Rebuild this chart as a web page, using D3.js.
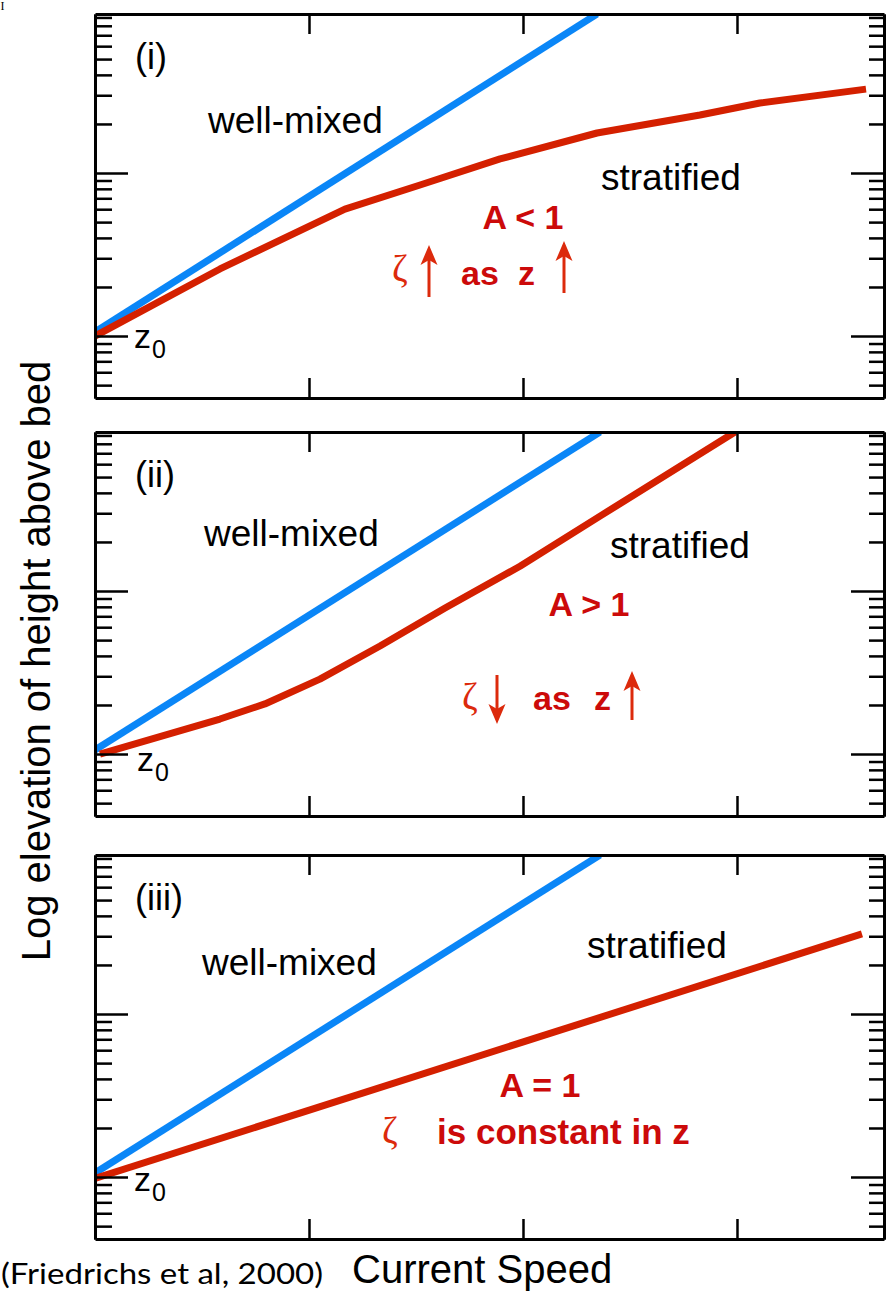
<!DOCTYPE html>
<html>
<head>
<meta charset="utf-8">
<script src="https://cdn.jsdelivr.net/npm/d3@7"></script>
<style>
  body { margin: 0; background: #fff; }
  svg { display: block; }
</style>
</head>
<body>
<script>
// ---- data -------------------------------------------------------------
// Current speed (arbitrary units) and log height above bed (in units of z0)
const speedMax = 3.687;
const speedTicks = [1, 2, 3];
const heightMin = 0.417;
const heightMax = 94.5;
const majorHeights = [1, 10];
const panelLabels = ["(i)", "(ii)", "(iii)"];

// panel (i): A < 1
const mixedSpeed1 = [0, 2.346];
const mixedHeight1 = [1.06, 94.5];
const stratSpeed1 = [0, 0.584, 1.168, 1.519, 1.893, 2.346, 2.827, 3.107, 3.603];
const stratHeight1 = [1, 2.58, 6.01, 8.44, 12.2, 17.6, 22.7, 26.9, 32.7];

// panel (ii): A > 1
const mixedSpeed2 = [0, 2.36];
const mixedHeight2 = [1.06, 94.5];
const stratSpeed2 = [0.023, 0.584, 0.794, 1.051, 1.332, 1.636, 1.986, 2.36, 2.991];
const stratHeight2 = [1.0, 1.64, 2.03, 2.88, 4.6, 7.87, 14.2, 28.8, 94.5];

// panel (iii): A = 1
const mixedSpeed3 = [0, 2.36];
const mixedHeight3 = [1.06, 94.5];
const stratSpeed3 = [0, 3.584];
const stratHeight3 = [0.98, 31];

// ---- layout -----------------------------------------------------------
const W = 895, H = 1298;
const left = 95, right = 884, panelH = 384;
const panelTops = [14, 432, 855];

const BLUE = "#0a86f7";
const RED = "#d42000";
const TXT_RED = "#cc0a0a";
const ARROW_RED = "#dc2a0c";
const SANS = "'Liberation Sans', Arial, Helvetica, sans-serif";

const svg = d3.select("body").append("svg")
  .attr("width", W).attr("height", H)
  .attr("viewBox", `0 0 ${W} ${H}`);

const x = d3.scaleLinear().domain([0, speedMax]).range([left, right]);

const panels = [
  { mixS: mixedSpeed1, mixH: mixedHeight1, strS: stratSpeed1, strH: stratHeight1 },
  { mixS: mixedSpeed2, mixH: mixedHeight2, strS: stratSpeed2, strH: stratHeight2 },
  { mixS: mixedSpeed3, mixH: mixedHeight3, strS: stratSpeed3, strH: stratHeight3 }
];

panels.forEach((p, i) => {
  const top = panelTops[i];
  const y = d3.scaleLog().domain([heightMin, heightMax]).range([top + panelH, top]);
  const minor = y.ticks().filter(v => !majorHeights.includes(v) && v >= heightMin && v <= heightMax);

  const g = svg.append("g");

  // clip region for profiles
  const clipId = "clip" + i;
  svg.append("clipPath").attr("id", clipId)
    .append("rect").attr("x", left).attr("y", top)
    .attr("width", right - left).attr("height", panelH);

  // profiles
  const line = d3.line().x(d => x(d[0])).y(d => y(d[1]));
  const lg = g.append("g").attr("clip-path", `url(#${clipId})`);
  lg.append("path")
    .datum(p.mixS.map((s, k) => [s, p.mixH[k]]))
    .attr("d", line).attr("fill", "none")
    .attr("stroke", BLUE).attr("stroke-width", 7)
    .attr("stroke-linecap", "butt").attr("stroke-linejoin", "round");
  lg.append("path")
    .datum(p.strS.map((s, k) => [s, p.strH[k]]))
    .attr("d", line).attr("fill", "none")
    .attr("stroke", RED).attr("stroke-width", 7)
    .attr("stroke-linecap", "butt").attr("stroke-linejoin", "round");

  // axes: log ticks on both sides, speed ticks on top and bottom
  const styleAxis = (sel, w) => {
    sel.selectAll(".domain").attr("stroke", "#000").attr("stroke-width", 3);
    sel.selectAll(".tick line").attr("stroke", "#000").attr("stroke-width", w);
    sel.selectAll(".tick text").remove();
  };
  const ax = [
    [d3.axisLeft(y).tickValues(minor).tickSizeInner(-17), left, 0],
    [d3.axisLeft(y).tickValues(majorHeights).tickSizeInner(-33), left, 0],
    [d3.axisRight(y).tickValues(minor).tickSizeInner(-15), right, 0],
    [d3.axisRight(y).tickValues(majorHeights).tickSizeInner(-33), right, 0],
    [d3.axisBottom(x).tickValues(speedTicks).tickSizeInner(-20), 0, top + panelH],
    [d3.axisTop(x).tickValues(speedTicks).tickSizeInner(-20), 0, top]
  ];
  ax.forEach(([a, tx, ty]) => {
    g.append("g").attr("transform", `translate(${tx},${ty})`)
      .call(a.tickSizeOuter(0).tickFormat(""))
      .call(s => styleAxis(s, 2.5));
  });

  // panel id
  g.append("text").attr("x", 135).attr("y", top + 55)
    .attr("font-family", SANS).attr("font-size", 36).text(panelLabels[i]);
});

// ---- annotations ------------------------------------------------------
function label(txt, px, py, opts = {}) {
  return svg.append("text").attr("x", px).attr("y", py)
    .attr("font-family", opts.family || SANS)
    .attr("font-size", opts.size || 37)
    .attr("font-weight", opts.weight || "normal")
    .attr("fill", opts.fill || "#000")
    .attr("text-anchor", opts.anchor || "start")
    .text(txt);
}

function arrow(px, yTail, yTip) {
  const dir = yTip < yTail ? -1 : 1;
  const g = svg.append("g").attr("fill", ARROW_RED).attr("stroke", ARROW_RED);
  g.append("line").attr("x1", px).attr("x2", px)
    .attr("y1", yTail).attr("y2", yTip - dir * 10)
    .attr("stroke-width", 3);
  g.append("path").attr("stroke", "none")
    .attr("d", `M${px},${yTip} L${px - 8.5},${yTip - dir * 20} L${px},${yTip - dir * 15} L${px + 8.5},${yTip - dir * 20} Z`);
}

function zeta(px, py) {
  label("\u03B6", px, py, { family: "'Liberation Serif', 'DejaVu Serif', serif", size: 38, fill: ARROW_RED });
}

function z0(px, py) {
  const t = svg.append("text").attr("x", px).attr("y", py)
    .attr("font-family", SANS).attr("font-size", 34);
  t.append("tspan").text("z");
  t.append("tspan").attr("font-size", 25).attr("dy", 10).attr("dx", 1).text("0");
}

// panel (i)
label("well-mixed", 208, 133);
label("stratified", 601, 190);
label("A < 1", 523, 229, { weight: "bold", size: 34, fill: TXT_RED, anchor: "middle" });
zeta(392, 281);
arrow(429, 297, 245);
label("as", 461, 285, { weight: "bold", size: 34, fill: TXT_RED });
label("z", 518, 285, { weight: "bold", size: 34, fill: TXT_RED });
arrow(564, 293, 241);
z0(134, 348);

// panel (ii)
label("well-mixed", 204, 546);
label("stratified", 610, 558);
label("A > 1", 589, 616, { weight: "bold", size: 34, fill: TXT_RED, anchor: "middle" });
zeta(462, 709);
arrow(497, 675, 724);
label("as", 533, 710, { weight: "bold", size: 34, fill: TXT_RED });
label("z", 594, 710, { weight: "bold", size: 34, fill: TXT_RED });
arrow(632, 720, 671);
z0(137, 771);

// panel (iii)
label("well-mixed", 202, 975);
label("stratified", 587, 958);
label("A = 1", 540, 1097, { weight: "bold", size: 34, fill: TXT_RED, anchor: "middle" });
zeta(382, 1143);
label("is constant in z", 437, 1144, { weight: "bold", size: 35, fill: TXT_RED });
z0(134, 1191);

// axis titles
svg.append("text")
  .attr("transform", "translate(50,661) rotate(-90)")
  .attr("font-family", SANS).attr("font-size", 40)
  .attr("text-anchor", "middle")
  .text("Log elevation of height above bed");

label("Current Speed", 352, 1283, { size: 40 });

// source note
label("(Friedrichs et al, 2000)", 1, 1284, { family: "Lato, 'Open Sans', sans-serif", size: 29 })
  .attr("textLength", 322).attr("lengthAdjust", "spacingAndGlyphs");

// small mark at the top-left corner
label("I", 0.5, 10, { family: "'Liberation Serif', serif", size: 12 });
</script>
</body>
</html>
